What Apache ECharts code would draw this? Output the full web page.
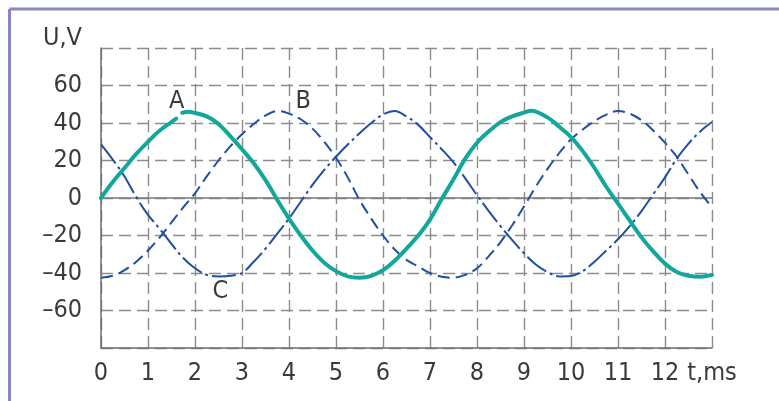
<!DOCTYPE html>
<html>
<head>
<meta charset="utf-8">
<script src="https://cdn.jsdelivr.net/npm/echarts@6/dist/echarts.min.js"></script>
<style>
  html, body { margin: 0; padding: 0; background: #fff; }
  #chart { width: 779px; height: 401px; }
</style>
</head>
<body>
<div id="chart"></div>
<script>
// Phase A (solid teal), time in ms and voltage in V; null marks the break beside the "A" tag
const timeA = [0, 0.25, 0.5, 0.75, 1.0, 1.25, 1.5, 1.6, 1.66, 1.73, 1.86, 2.0, 2.25, 2.5, 2.75,
  3.0, 3.25, 3.5, 3.75, 4.0, 4.25, 4.5, 4.75, 5.0, 5.25, 5.5, 5.75, 6.0, 6.25, 6.5, 6.75,
  7.0, 7.25, 7.5, 7.75, 8.0, 8.25, 8.5, 8.75, 9.0, 9.15, 9.5, 9.75, 10.0, 10.25, 10.5, 10.75,
  11.0, 11.25, 11.5, 11.75, 12.0, 12.25, 12.5, 12.75, 13.0];
const voltA = [0, 8.5, 16, 23.5, 30, 36, 40.5, 42.3, null, 45.5, 46, 45.3, 43.5, 39.5, 33,
  26, 18.5, 9.5, -1, -11, -20, -28, -34.5, -39, -41.8, -42.5, -41.5, -38.5, -33.5, -27, -20,
  -11.5, -0.5, 10, 21, 29.5, 35.5, 40.5, 43.5, 45.5, 46.5, 43, 38, 32.5, 25, 16, 6,
  -3, -12, -21, -28.5, -35, -39.5, -41.5, -42, -41];

// Phase B (dashed blue)
const timeB = [0, 0.25, 0.5, 0.75, 1.0, 1.25, 1.5, 1.75, 2.0, 2.25, 2.5, 2.75, 3.0, 3.25, 3.5,
  3.75, 4.0, 4.25, 4.5, 4.75, 5.0, 5.25, 5.5, 5.75, 6.0, 6.25, 6.5, 6.75, 7.0, 7.25, 7.5,
  7.75, 8.0, 8.25, 8.5, 8.75, 9.0, 9.25, 9.5, 9.75, 10.0, 10.25, 10.5, 10.75, 11.0, 11.25,
  11.5, 11.75, 12.0, 12.25, 12.5, 12.75, 13.0];
const voltB = [-42.5, -41.5, -38.5, -34, -28, -21, -13, -5, 2.5, 11.5, 20, 27.5, 34, 39.5, 44,
  46.4, 45, 42, 37, 30, 21.5, 11, -1, -11, -20, -27.5, -33, -36.5, -40, -42, -42.5,
  -41, -37.5, -31, -23.5, -14.5, -4.5, 6, 15.5, 24, 31.3, 36.5, 41, 44.5, 46.4, 45,
  41.5, 36, 29.5, 22, 12.5, 3, -5];

// Phase C (dash-dot blue)
const timeC = timeB;
const voltC = [28.6, 20.5, 11.5, 0.5, -9, -16.5, -24.5, -32, -37.5, -41, -41.8, -41.5, -40, -34, -27,
  -19, -11, -2, 7, 15, 22, 28.5, 34.5, 40, 44.5, 46.4, 43.5, 39, 32.5, 26, 19,
  10.5, 1.5, -7, -15, -22.5, -29.5, -35.5, -39.5, -41.8, -41.6, -39, -34, -28, -22, -15,
  -7, 2, 11, 21, 29, 35.5, 40.5];

// Axis ticks: labels along t (the last slot carries the unit) and along U
const timeTickLabels = ['0', '1', '2', '3', '4', '5', '6', '7', '8', '9', '10', '11', '12', 't,ms'];
const voltTickLabels = { '-60': '–60', '-40': '–40', '-20': '–20', '0': '0', '20': '20', '40': '40', '60': '60' };
const phaseNames = ['A', 'B', 'C'];

const pairs = (ts, vs) => ts.map((t, i) => [t, vs[i] === null ? '-' : vs[i]]);

const FONT = "'Liberation Sans Narrow', 'DejaVu Sans Condensed', 'Roboto', sans-serif";
const TEXT = '#3a3a3a';
const GRID = '#8c8c8c';
const TEAL = '#12a79a';
const BLUE = '#1f4ea3';
const FS = 25;

const tag = (name, t, u) => ({
  symbol: 'rect', symbolSize: 0, silent: true,
  label: { show: true, formatter: name, fontFamily: FONT, fontSize: FS, color: TEXT, position: 'inside' },
  data: [{ coord: [t, u] }]
});

const chart = echarts.init(document.getElementById('chart'), null, { renderer: 'canvas' });
chart.setOption({
  animation: false,
  backgroundColor: '#ffffff',
  grid: { left: 101, right: 67, top: 48, bottom: 53, show: false },
  xAxis: {
    type: 'value', min: 0, max: 13, interval: 1,
    axisLine: { show: true, onZero: false, lineStyle: { color: '#6e6e6e', width: 1.5 } },
    axisTick: { show: false },
    axisLabel: {
      margin: 13, fontFamily: FONT, fontSize: FS, color: TEXT,
      formatter: v => timeTickLabels[Math.round(v)] ?? ''
    },
    splitLine: { show: true, lineStyle: { color: GRID, width: 1.4, type: [12, 6] } }
  },
  yAxis: {
    type: 'value', min: -80, max: 80, interval: 20,
    name: 'U,V', nameLocation: 'end', nameGap: -3,
    nameTextStyle: { fontFamily: FONT, fontSize: FS, color: TEXT, align: 'right', padding: [0, 19, 0, 0] },
    axisLine: { show: true, onZero: false, lineStyle: { color: '#6e6e6e', width: 1.5 } },
    axisTick: { show: false },
    axisLabel: {
      margin: 19, fontFamily: FONT, fontSize: FS, color: TEXT,
      formatter: v => voltTickLabels[String(v)] ?? ''
    },
    splitLine: {
      show: true,
      lineStyle: { color: GRID, width: 1.4, type: [12, 6] }
    }
  },
  graphic: [
    { type: 'line', shape: { x1: 9.5, y1: 9, x2: 779, y2: 9 }, style: { stroke: '#8787c6', lineWidth: 3 }, silent: true },
    { type: 'line', shape: { x1: 9.5, y1: 9, x2: 9.5, y2: 401 }, style: { stroke: '#8787c6', lineWidth: 3 }, silent: true }
  ],
  series: [
    {
      // solid zero line
      type: 'line', data: [[0, 0], [13, 0]], symbol: 'none', silent: true,
      lineStyle: { color: '#7a7a7a', width: 1.5 }, z: 1
    },
    {
      name: phaseNames[1], type: 'line', data: pairs(timeB, voltB), smooth: 0.35, symbol: 'none',
      lineStyle: { color: BLUE, width: 2, type: [12, 6] }, z: 3,
      markPoint: tag(phaseNames[1], 4.3, 51.7)
    },
    {
      name: phaseNames[2], type: 'line', data: pairs(timeC, voltC), smooth: 0.35, symbol: 'none',
      lineStyle: { color: BLUE, width: 2, type: [24, 4, 3, 4] }, z: 3,
      markPoint: tag(phaseNames[2], 2.54, -49.6)
    },
    {
      name: phaseNames[0], type: 'line', data: pairs(timeA, voltA), smooth: 0.35, symbol: 'none',
      connectNulls: false,
      lineStyle: { color: TEAL, width: 4, cap: 'round' }, z: 4,
      markPoint: tag(phaseNames[0], 1.61, 51.7)
    }
  ]
});
</script>
</body>
</html>
